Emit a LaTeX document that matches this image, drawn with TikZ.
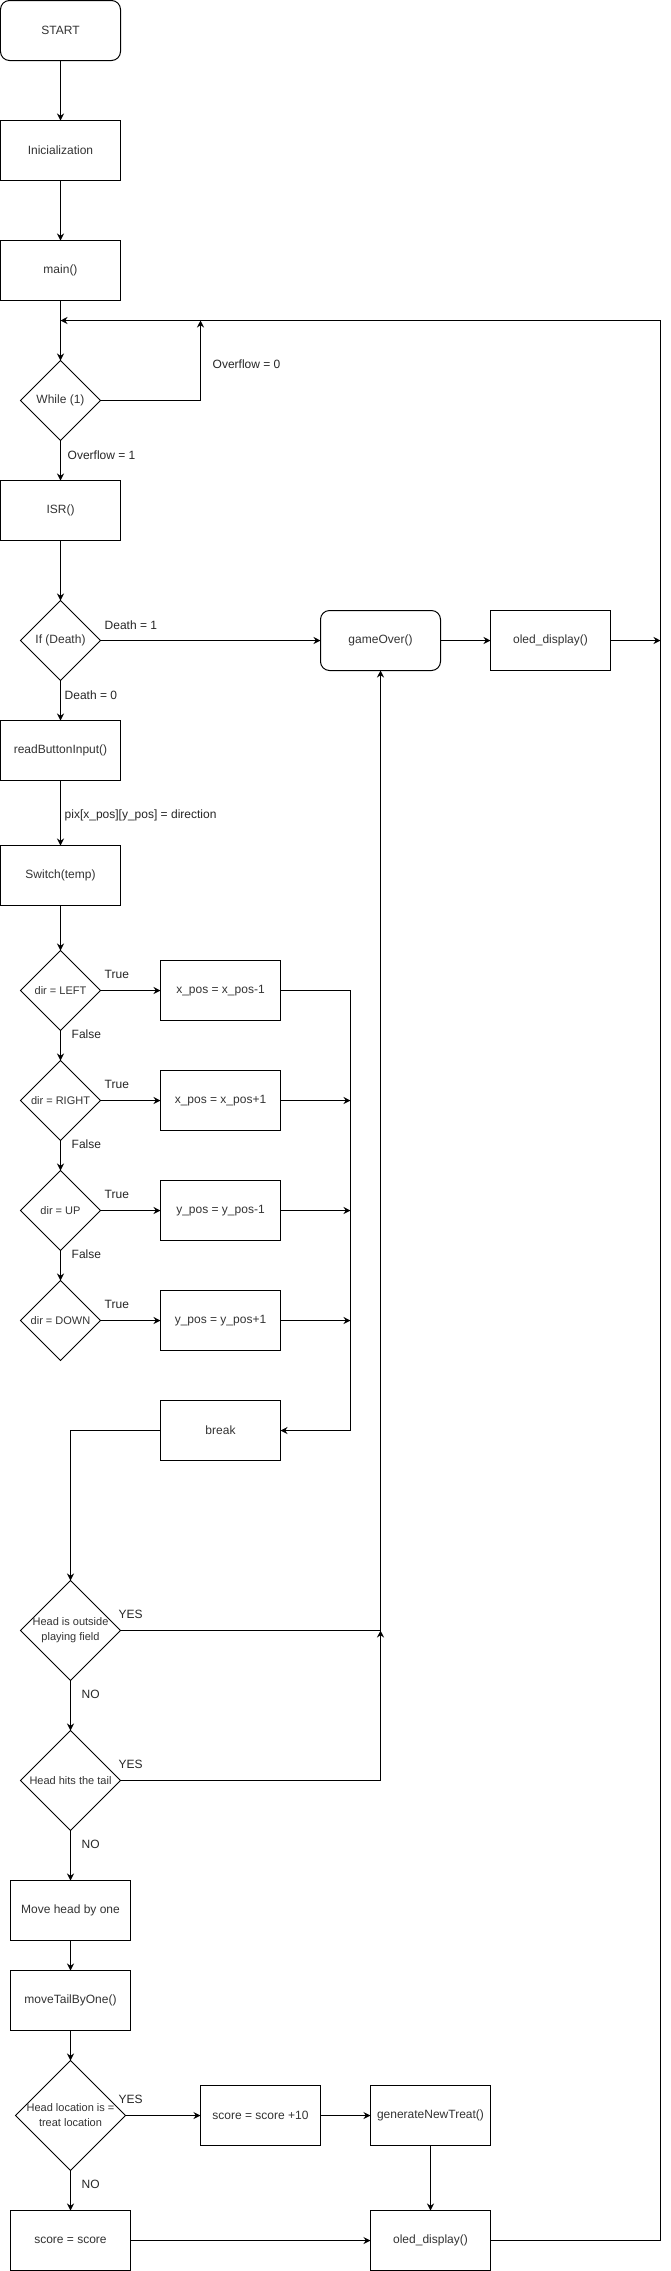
\documentclass[tikz,border=0pt]{standalone}
\usepackage{fontspec}
\setmainfont{Liberation Sans}
\usetikzlibrary{shapes.geometric,arrows.meta}
\begin{document}
\begin{tikzpicture}[x=1pt,y=-1pt,
  font=\fontsize{12}{14}\selectfont,
  box/.style={draw, line width=1pt, minimum width=120pt, minimum height=60pt, inner sep=0pt, outer sep=0pt, text=black!80},
  rbox/.style={box, rounded corners=9pt},
  dia/.style={draw, diamond, line width=1pt, inner sep=0pt, outer sep=0pt, minimum width=80pt, minimum height=80pt},
  bigdia/.style={dia, minimum width=100pt, minimum height=100pt},
  dtext/.style={font=\fontsize{11}{15}\selectfont, text=black!80, align=center, inner sep=0pt},
  ctext/.style={font=\fontsize{12}{15}\selectfont, text=black!80, align=center, inner sep=0pt},
  elabel/.style={anchor=west, inner sep=0pt, text=black!85},
  conn/.style={line width=1pt, -{Stealth[length=7pt,width=7pt]}},
  plain/.style={line width=1pt},
]
\fill[white] (-0.5,-0.5) rectangle (669.5,2270.5);
\useasboundingbox (-0.5,-0.5) rectangle (669.5,2270.5);

% ---- nodes ----
\node[rbox] (start) at (60,30) {START};
\node[box] (init) at (60,150) {Inicialization};
\node[box] (main) at (60,270) {main()};
\node[dia] (while) at (60,400) {};
\node[ctext] (whileT) at (while.center) {While (1)};
\node[box] (isr) at (60,510) {ISR()};
\node[dia] (ifd) at (60,640) {};
\node[ctext] (ifdT) at (ifd.center) {If (Death)};
\node[rbox] (gameover) at (380,640) {gameOver()};
\node[box] (oled1) at (550,640) {oled\_display()};
\node[box] (readbtn) at (60,750) {readButtonInput()};
\node[box] (switch) at (60,875) {Switch(temp)};

\node[dia] (dleft) at (60,990) {};
\node[dtext] (dleftT) at (dleft.center) {dir = LEFT};
\node[box] (bleft) at (220,990) {x\_pos = x\_pos-1};
\node[dia] (dright) at (60,1100) {};
\node[dtext] (drightT) at (dright.center) {dir = RIGHT};
\node[box] (bright) at (220,1100) {x\_pos = x\_pos+1};
\node[dia] (dup) at (60,1210) {};
\node[dtext] (dupT) at (dup.center) {dir = UP};
\node[box] (bup) at (220,1210) {y\_pos = y\_pos-1};
\node[dia] (ddown) at (60,1320) {};
\node[dtext] (ddownT) at (ddown.center) {dir = DOWN};
\node[box] (bdown) at (220,1320) {y\_pos = y\_pos+1};
\node[box] (brk) at (220,1430) {break};

\node[bigdia] (hout) at (70,1630) {};
\node[dtext] (houtT) at (hout.center) {Head is outside\\playing field};
\node[bigdia] (htail) at (70,1780) {};
\node[dtext] (htailT) at (htail.center) {Head hits the tail};
\node[box] (movehead) at (70,1910) {Move head by one};
\node[box] (movetail) at (70,2000) {moveTailByOne()};
\node[dia, minimum width=110pt, minimum height=110pt] (hloc) at (70,2115) {};
\node[dtext] (hlocT) at (hloc.center) {Head location is =\\treat location};
\node[box] (score10) at (260,2115) {score = score +10};
\node[box] (gentreat) at (430,2115) {generateNewTreat()};
\node[box] (scoreeq) at (70,2240) {score = score};
\node[box] (oled2) at (430,2240) {oled\_display()};

% ---- junction coordinates ----
\coordinate (loopin) at (60,320);
\coordinate (ovf) at (200,320);
\coordinate (r1) at (660,640);
\coordinate (rr) at (660,2240);
\coordinate (rt) at (660,320);
\coordinate (c1) at (350,1100);
\coordinate (c2) at (350,1210);
\coordinate (c3) at (350,1320);
\coordinate (j1) at (380,1630);

% ---- connectors ----
\draw[conn] (start) -- (init);
\draw[conn] (init) -- (main);
\draw[conn] (main) -- (while);
\draw[conn] (while.east) -| (ovf);
\draw[conn] (while) -- (isr);
\draw[conn] (isr) -- (ifd);
\draw[conn] (ifd.east) -- (gameover.west);
\draw[conn] (ifd) -- (readbtn);
\draw[conn] (gameover) -- (oled1);
\draw[conn] (oled1.east) -- (r1);
\draw[conn] (readbtn) -- (switch);
\draw[conn] (switch) -- (dleft);

\draw[conn] (dleft.east) -- (bleft.west);
\draw[conn] (dleft) -- (dright);
\draw[conn] (dright.east) -- (bright.west);
\draw[conn] (dright) -- (dup);
\draw[conn] (dup.east) -- (bup.west);
\draw[conn] (dup) -- (ddown);
\draw[conn] (ddown.east) -- (bdown.west);

\draw[conn] (bleft.east) -- (350,990) |- (brk.east);
\draw[conn] (bright.east) -- (c1);
\draw[conn] (bup.east) -- (c2);
\draw[conn] (bdown.east) -- (c3);

\draw[conn] (brk.west) -| (hout.north);
\draw[conn] (hout.east) -| (gameover.south);
\draw[conn] (hout) -- (htail);
\draw[conn] (htail.east) -| (j1);
\draw[conn] (htail) -- (movehead);
\draw[conn] (movehead) -- (movetail);
\draw[conn] (movetail) -- (hloc);
\draw[conn] (hloc.east) -- (score10.west);
\draw[conn] (hloc) -- (scoreeq);
\draw[conn] (score10) -- (gentreat);
\draw[conn] (gentreat) -- (oled2);
\draw[conn] (scoreeq) -- (oled2);
\draw[conn] (oled2.east) -- (rr) -- (rt) -- (loopin);

% ---- edge labels ----
\node[elabel] (l1) at (212,364) {Overflow = 0};
\node[elabel] (l2) at (67,455) {Overflow = 1};
\node[elabel] (l3) at (104,625) {Death = 1};
\node[elabel] (l4) at (64,695) {Death = 0};
\node[elabel] (l5) at (64,815) {pix[x\_pos][y\_pos] = direction};
\node[elabel] (t1) at (104,974) {True};
\node[elabel] (t2) at (104,1084) {True};
\node[elabel] (t3) at (104,1194) {True};
\node[elabel] (t4) at (104,1304) {True};
\node[elabel] (f1) at (71,1034) {False};
\node[elabel] (f2) at (71,1144) {False};
\node[elabel] (f3) at (71,1254) {False};
\node[elabel] (y1) at (118,1614) {YES};
\node[elabel] (y2) at (118,1764) {YES};
\node[elabel] (y3) at (118,2099) {YES};
\node[elabel] (n1) at (81,1694) {NO};
\node[elabel] (n2) at (81,1844) {NO};
\node[elabel] (n3) at (81,2184) {NO};
\end{tikzpicture}
\end{document}
